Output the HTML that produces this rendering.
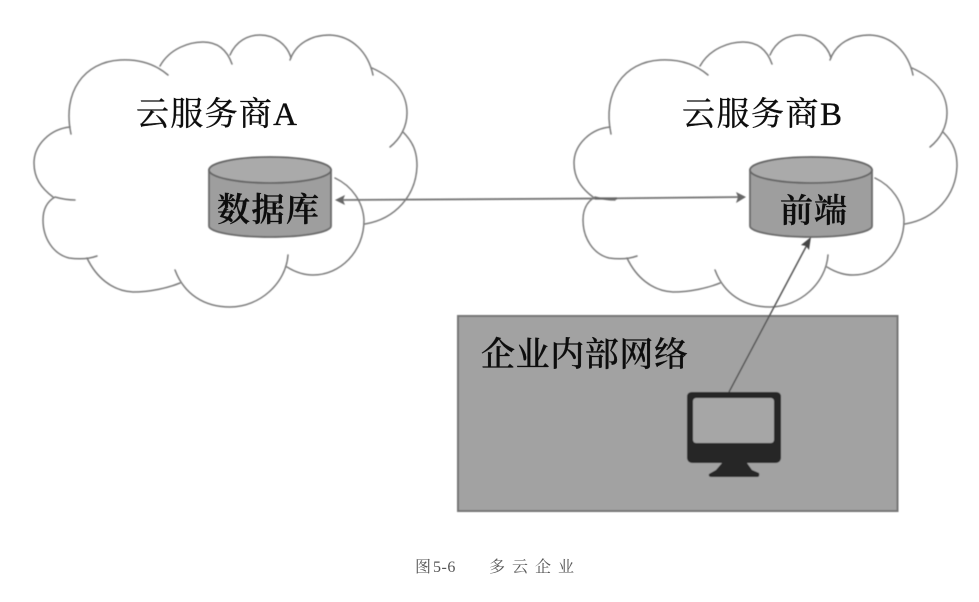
<!DOCTYPE html>
<html>
<head>
<meta charset="utf-8">
<style>
html,body{margin:0;padding:0;background:#fff;width:979px;height:602px;overflow:hidden}
svg{display:block}
text{font-family:"Liberation Serif","Noto Serif CJK SC",serif;fill:#111}
.h{stroke:#111;stroke-width:0.35px}
</style>
</head>
<body>
<svg width="979" height="602" viewBox="0 0 979 602" xmlns="http://www.w3.org/2000/svg">
<defs>
<filter id="b" x="-5%" y="-5%" width="110%" height="110%"><feGaussianBlur stdDeviation="0.5"/></filter>
<filter id="t" x="-5%" y="-20%" width="110%" height="140%"><feGaussianBlur stdDeviation="0.3"/></filter>
<g id="cloud" fill="none" stroke="#7c7c7c" stroke-width="1.500" stroke-linecap="round">
<path d="M71 134C62 92 84 62 120 60C138 59 154 63 168 75"/>
<path d="M160 66C170 48 190 42 203 42C215 42 226 47 232 64"/>
<path d="M230 55C236 41 248 35 260 35C274 35 287 44 291 58"/>
<path d="M290 60C296 43 312 35 330 35C352 36 368 52 373 75"/>
<path d="M372 68C394 78 407 92 407 113C407 127 400 139 390 147"/>
<path d="M403 132C414 143 417 153 417 166C416 196 395 219 365 224"/>
<path d="M335 178C352 186 363 202 364 220C364 252 340 275 313 275C304 275 295 272 287 267"/>
<path d="M288 255C286 283 260 307 230 307C204 307 184 294 175 270"/>
<path d="M180 283C168 288 150 292 133 292C112 291 96 277 87 258"/>
<path d="M97 256C86 260 76 259 69 258C53 254 43 238 43 220C43 208 48 201 55 197C62 199 68 200 75 200"/>
<path d="M53 197C41 188 34 178 34 163C34 145 50 129 70 127"/>
</g>
</defs>

<g filter="url(#b)">
<use href="#cloud"/>
<use href="#cloud" x="540"/>

<!-- enterprise network -->
<rect x="458" y="316" width="439.500" height="195" fill="#a2a2a2" stroke="#747474" stroke-width="2"/>

<!-- cylinder A -->
<path d="M209 170V226C209 232 235 237 270 237C305 237 331 232 331 226V170Z" fill="#9e9e9e" stroke="#6a6a6a" stroke-width="1.800"/>
<ellipse cx="270" cy="170" rx="61" ry="13" fill="#aaa" stroke="#666" stroke-width="1.800"/>

<!-- cylinder B -->
<path d="M750 170V226C750 232 776 237 811 237C846 237 872 232 872 226V170Z" fill="#9e9e9e" stroke="#6a6a6a" stroke-width="1.800"/>
<ellipse cx="811" cy="170" rx="61" ry="13" fill="#aaa" stroke="#666" stroke-width="1.800"/>

<!-- connectors -->
<path d="M337 200L600 198.500L743 197" fill="none" stroke="#777" stroke-width="1.800"/>
<path d="M595 198.500H617" stroke="#666" stroke-width="2.200"/>
<path d="M335 200L345 195L343 200L345 205Z" fill="#666"/>
<path d="M746 197L736 192L738 197L736 203Z" fill="#666"/>
<path d="M729 392L808 243" stroke="#555" stroke-width="1.500"/>
<path d="M811 237L809 250L806 246L801 245Z" fill="#444"/>

<!-- monitor -->
<path d="M692 392H776Q781 392 781 397V457Q781 463 775 463H693Q687 463 687 457V397Q687 392 692 392Z" fill="#282828"/>
<rect x="693" y="398" width="81" height="45" rx="3" fill="#a6a6a6"/>
<path d="M722 463H747L752 470L759 473Q760 477 757 477H712Q708 477 709 474L716 470Z" fill="#282828"/>
</g>

<g filter="url(#t)">
<text class="h" x="136" y="125" font-size="33" textLength="161" lengthAdjust="spacing">云服务商A</text>
<text class="h" x="682" y="125" font-size="33" textLength="160" lengthAdjust="spacing">云服务商B</text>
<text class="h" x="217" y="221" font-size="33" font-weight="600" textLength="102">数据库</text>
<text class="h" x="780" y="222" font-size="33" font-weight="600" textLength="67">前端</text>
<text class="h" x="481" y="366" font-size="34" font-weight="500" textLength="207">企业内部网络</text>
</g>
<text x="415" y="572" font-size="16" style="fill:#555">图<tspan x="433" letter-spacing="0.500">5-6</tspan></text>
<text x="489" y="572" font-size="16" style="fill:#555" textLength="85">多云企业</text>
</svg>
</body>
</html>
